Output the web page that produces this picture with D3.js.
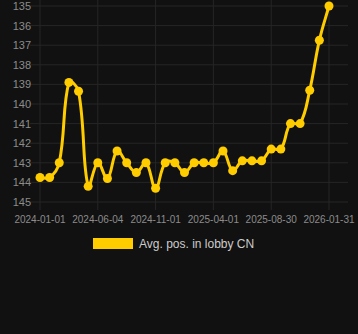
<!DOCTYPE html>
<html>
<head>
<meta charset="utf-8">
<script src="https://cdn.jsdelivr.net/npm/d3@7"></script>
<style>
  body { margin: 0; background: #111111; }
  svg { display: block; font-family: "Liberation Sans", Arial, sans-serif; }
</style>
</head>
<body>
<div id="chart"></div>
<script>
var dates = ["2024-01-01","2024-01-27","2024-02-22","2024-03-19","2024-04-14","2024-05-10",
  "2024-06-04","2024-06-29","2024-07-24","2024-08-18","2024-09-12","2024-10-07",
  "2024-11-01","2024-11-26","2024-12-21","2025-01-15","2025-02-09","2025-03-06",
  "2025-04-01","2025-04-26","2025-05-21","2025-06-15","2025-07-10","2025-08-04",
  "2025-08-30","2025-09-24","2025-10-20","2025-11-15","2025-12-11","2026-01-05",
  "2026-01-31"];
var positions = [143.75, 143.75, 143.0, 138.9, 139.35, 144.2,
  143.0, 143.8, 142.4, 143.0, 143.5, 143.0,
  144.3, 143.0, 143.0, 143.5, 143.0, 143.0,
  143.0, 142.4, 143.4, 142.9, 142.9, 142.9,
  142.3, 142.3, 141.0, 141.0, 139.3, 136.75,
  135.0];
var xTickLabels = ["2024-01-01","2024-06-04","2024-11-01","2025-04-01","2025-08-30","2026-01-31"];
var yTicks = [135,136,137,138,139,140,141,142,143,144,145];
var seriesName = "Avg. pos. in lobby CN";

var width = 358, height = 334;
var color = "#ffcc00";
var plot = { left: 40, right: 329, top: 6, bottom: 202 };

var svg = d3.select("#chart").append("svg")
  .attr("width", width).attr("height", height);

svg.append("rect").attr("width", width).attr("height", height).attr("fill", "#111111");

var x = d3.scalePoint().domain(dates).range([plot.left, plot.right]);
var y = d3.scaleLinear().domain([135, 145]).range([plot.top, plot.bottom]);

// grid
svg.append("g").selectAll("line").data(yTicks).join("line")
  .attr("x1", plot.left - 10).attr("x2", 348)
  .attr("y1", function(d) { return y(d); }).attr("y2", function(d) { return y(d); })
  .attr("stroke", "#262626").attr("stroke-width", 1);

svg.append("g").selectAll("line").data(xTickLabels).join("line")
  .attr("x1", function(d) { return x(d); }).attr("x2", function(d) { return x(d); })
  .attr("y1", 0).attr("y2", plot.bottom + 8)
  .attr("stroke", "#262626").attr("stroke-width", 1);

// y labels
svg.append("g").selectAll("text").data(yTicks).join("text")
  .attr("x", 31).attr("y", function(d) { return y(d); })
  .attr("dy", "0.36em")
  .attr("text-anchor", "end")
  .attr("fill", "#8c8c8c").attr("font-size", 11)
  .text(function(d) { return d; });

// x labels
svg.append("g").selectAll("text").data(xTickLabels).join("text")
  .attr("x", function(d) { return x(d); }).attr("y", 219)
  .attr("dy", "0.35em")
  .attr("text-anchor", "middle")
  .attr("fill", "#8c8c8c").attr("font-size", 10)
  .text(function(d) { return d; });

var data = dates.map(function(d, i) { return { date: d, value: positions[i] }; });

// spline with tension, control points from neighbour distances, kept inside the plot
function splinePath(pts, tension) {
  var cps = pts.map(function(p, i) {
    var p0 = pts[i - 1] || p, p2 = pts[i + 1] || p;
    var d01 = Math.hypot(p[0] - p0[0], p[1] - p0[1]);
    var d12 = Math.hypot(p2[0] - p[0], p2[1] - p[1]);
    var s01 = d01 / (d01 + d12 || 1), s12 = d12 / (d01 + d12 || 1);
    var fa = tension * s01, fb = tension * s12;
    var cap = function(c) {
      return [Math.max(plot.left, Math.min(plot.right, c[0])),
              Math.max(plot.top, Math.min(plot.bottom, c[1]))];
    };
    return {
      prev: cap([p[0] - fa * (p2[0] - p0[0]), p[1] - fa * (p2[1] - p0[1])]),
      next: cap([p[0] + fb * (p2[0] - p0[0]), p[1] + fb * (p2[1] - p0[1])])
    };
  });
  var path = d3.path();
  path.moveTo(pts[0][0], pts[0][1]);
  for (var i = 1; i < pts.length; i++) {
    path.bezierCurveTo(cps[i - 1].next[0], cps[i - 1].next[1],
      cps[i].prev[0], cps[i].prev[1], pts[i][0], pts[i][1]);
  }
  return path.toString();
}

var pts = data.map(function(d) { return [x(d.date), y(d.value)]; });

svg.append("path")
  .attr("d", splinePath(pts, 0.4))
  .attr("fill", "none")
  .attr("stroke", color)
  .attr("stroke-width", 3);

svg.append("g").selectAll("circle").data(data).join("circle")
  .attr("cx", function(d) { return x(d.date); })
  .attr("cy", function(d) { return y(d.value); })
  .attr("r", 4.5)
  .attr("fill", color);

// legend
svg.append("rect").attr("x", 93).attr("y", 238).attr("width", 40).attr("height", 11)
  .attr("fill", color);
svg.append("text").attr("x", 139).attr("y", 244)
  .attr("dy", "0.35em")
  .attr("fill", "#cccccc").attr("font-size", 12)
  .text(seriesName);
</script>
</body>
</html>
